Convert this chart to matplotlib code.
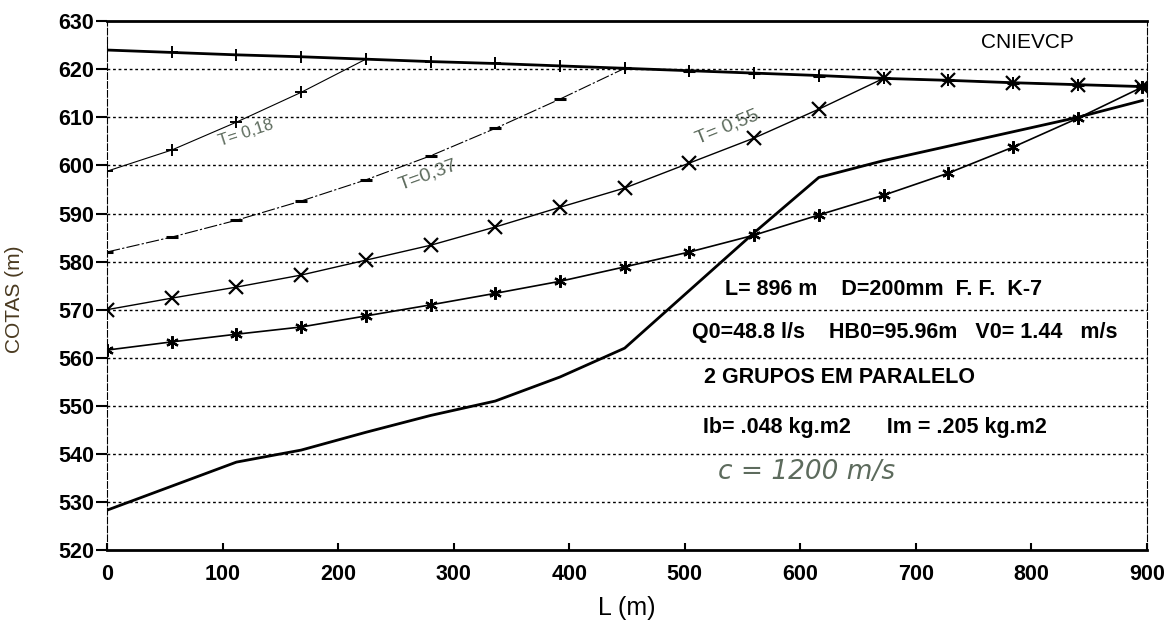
import matplotlib.pyplot as plt

# distance along the pipe (m), 16 reaches of 56 m
L = [0, 56, 112, 168, 224, 280, 336, 392, 448, 504, 560, 616, 672, 728, 784, 840, 896]

# steady state head line
regime = [624.0, 623.5, 623.0, 622.6, 622.1, 621.6, 621.2, 620.7, 620.2, 619.7,
          619.2, 618.7, 618.1, 617.7, 617.2, 616.8, 616.4]
# transient head lines
t018 = [598.8, 603.2, 609.0, 615.2, 622.1, 621.6, 621.2, 620.7, 620.2, 619.7,
        619.2, 618.7, 618.1, 617.7, 617.2, 616.8, 616.4]
t037 = [582.0, 585.1, 588.6, 592.6, 597.0, 602.0, 607.7, 613.8, 620.2, 619.7,
        619.2, 618.7, 618.1, 617.7, 617.2, 616.8, 616.4]
t055 = [570.0, 572.4, 574.7, 577.2, 580.3, 583.4, 587.2, 591.3, 595.3, 600.5,
        605.7, 611.7, 618.1, 617.7, 617.2, 616.8, 616.4]
t_min = [561.6, 563.3, 564.9, 566.4, 568.7, 571.0, 573.4, 575.9, 578.9, 582.0,
         585.5, 589.7, 593.8, 598.4, 603.8, 609.8, 616.3]
# pipe profile
perfil = [528.3, 533.3, 538.3, 540.8, 544.5, 548.0, 551.0, 556.0, 562.0, 574.0,
          586.0, 597.5, 601.0, 604.0, 607.0, 610.0, 613.5]

yticks = [520, 530, 540, 550, 560, 570, 580, 590, 600, 610, 620, 630]
xticks = [0, 100, 200, 300, 400, 500, 600, 700, 800, 900]

plt.rcParams['font.family'] = ['Liberation Sans', 'DejaVu Sans']

fig = plt.figure(figsize=(11.68, 6.23), dpi=100)
ax = fig.add_axes([0.0916, 0.117, 0.8904, 0.849])

# horizontal dotted grid
for y in yticks[1:-1]:
    ax.axhline(y, color="black", linestyle=(0, (2, 2)), linewidth=1.0, zorder=1)

ax.plot(L, perfil, color="black", linewidth=2.0, zorder=3)
ax.plot(L, t_min, color="black", linewidth=1.2, marker=(6, 2, 0), markersize=9,
        markeredgewidth=1.6, zorder=4)
ax.plot(L, t055, color="black", linewidth=1.0, marker="x", markersize=10,
        markeredgewidth=1.6, zorder=4)
ax.plot(L, t037, color="black", linewidth=0.8, linestyle=(0, (12, 2, 2, 2)),
        marker="_", markersize=9, markeredgewidth=2.2, zorder=4)
ax.plot(L, t018, color="black", linewidth=0.8, marker="+", markersize=8,
        markeredgewidth=1.4, zorder=4)
ax.plot(L, regime, color="black", linewidth=2.0, marker="+", markersize=8,
        markeredgewidth=1.4, zorder=5)

ax.set_xlim(0, 900)
ax.set_ylim(520, 630)
ax.set_xticks(xticks)
ax.set_yticks(yticks)
ax.tick_params(axis="both", labelsize=15.5, width=1.5)
ax.tick_params(axis="y", direction="out", length=8, pad=1)
ax.tick_params(axis="x", direction="in", length=5, pad=10)
for lab in ax.get_xticklabels() + ax.get_yticklabels():
    lab.set_fontweight("bold")

ax.spines["top"].set_linewidth(2.0)
ax.spines["bottom"].set_linewidth(2.0)
ax.spines["left"].set_linewidth(0.8)
ax.spines["left"].set_linestyle((0, (6, 2)))
ax.spines["right"].set_linewidth(0.8)
ax.spines["right"].set_linestyle((0, (6, 2)))

ax.set_xlabel("L (m)", fontsize=18, labelpad=8)
fig.text(0.012, 0.52, "COTAS (m)", rotation=90, fontsize=15, color="#4a3a20",
         ha="center", va="center")

# data box text
box = dict(fontsize=15.5, fontweight="bold", va="center")
ax.text(756, 625.6, "CNIEVCP", fontsize=15, va="center")
ax.text(535, 574.1, "L= 896 m    D=200mm  F. F.  K-7", **box)
ax.text(506, 565.3, "Q0=48.8 l/s    HB0=95.96m   V0= 1.44   m/s", **box)
ax.text(517, 556.0, "2 GRUPOS EM PARALELO", **box)
ax.text(516, 545.6, "Ib= .048 kg.m2      Im = .205 kg.m2", **box)

# handwritten notes
hand = "#5d6b5d"
ax.text(529, 536.2, "c = 1200 m/s", fontsize=19, color=hand, style="italic",
        va="center", fontfamily="DejaVu Sans", fontweight="light")
ax.text(120, 606.7, "T= 0,18", fontsize=12, color=hand, rotation=18,
        ha="center", va="center", fontweight="light")
ax.text(278, 598.0, "T=0,37", fontsize=14, color=hand, rotation=20,
        ha="center", va="center")
ax.text(537, 608.0, "T= 0,55", fontsize=14, color=hand, rotation=22,
        ha="center", va="center")

plt.savefig("out.png", dpi=100)
